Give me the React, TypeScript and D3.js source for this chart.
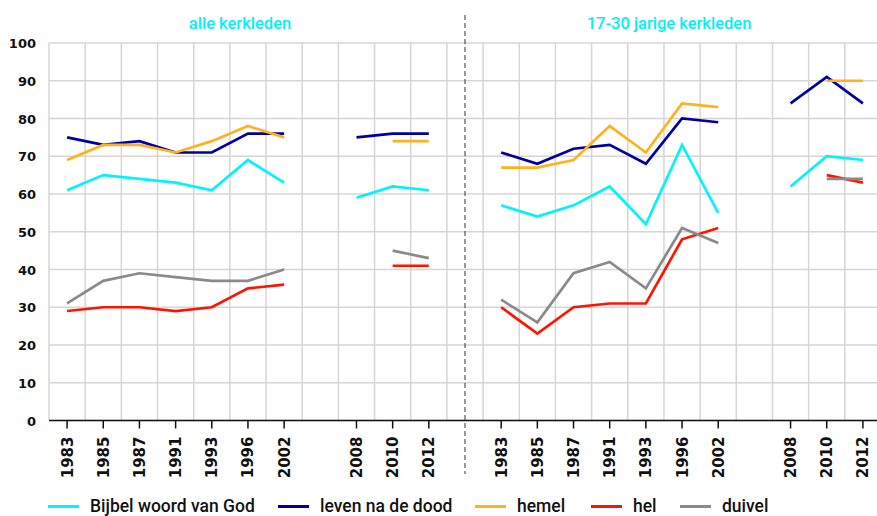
import { scaleBand, scaleLinear, line } from "d3";

const years = ["1983", "1985", "1987", "1991", "1993", "1996", "2002", "2008", "2010", "2012"];
const panels = ["L", "R"];
const yTicks = [0, 10, 20, 30, 40, 50, 60, 70, 80, 90, 100];

// slots along the x axis: years of each panel, with empty slots between the groups
const slots = [
  "L1983", "L1985", "L1987", "L1991", "L1993", "L1996", "L2002", "Lgap",
  "L2008", "L2010", "L2012", "divider",
  "R1983", "R1985", "R1987", "R1991", "R1993", "R1996", "R2002", "Rgap",
  "R2008", "R2010", "R2012",
];

const bijbelAlle = [61, 65, 64, 63, 61, 69, 63, 59, 62, 61];
const levenAlle = [75, 73, 74, 71, 71, 76, 76, 75, 76, 76];
const hemelAlle = [69, 73, 73, 71, 74, 78, 75, null, 74, 74];
const helAlle = [29, 30, 30, 29, 30, 35, 36, null, 41, 41];
const duivelAlle = [31, 37, 39, 38, 37, 37, 40, null, 45, 43];

const bijbelJong = [57, 54, 57, 62, 52, 73, 55, 62, 70, 69];
const levenJong = [71, 68, 72, 73, 68, 80, 79, 84, 91, 84];
const hemelJong = [67, 67, 69, 78, 71, 84, 83, null, 90, 90];
const helJong = [30, 23, 30, 31, 31, 48, 51, null, 65, 63];
const duivelJong = [32, 26, 39, 42, 35, 51, 47, null, 64, 64];

const seriesNames = ["Bijbel woord van God", "leven na de dood", "hemel", "hel", "duivel"];
const seriesColors = ["#00f4ff", "#0000a0", "#ffb21e", "#ff1400", "#8a8a8a"];

const series = [
  { name: seriesNames[0], color: seriesColors[0], L: bijbelAlle, R: bijbelJong },
  { name: seriesNames[1], color: seriesColors[1], L: levenAlle, R: levenJong },
  { name: seriesNames[2], color: seriesColors[2], L: hemelAlle, R: hemelJong },
  { name: seriesNames[3], color: seriesColors[3], L: helAlle, R: helJong },
  { name: seriesNames[4], color: seriesColors[4], L: duivelAlle, R: duivelJong },
];

const titles = [
  { text: "alle kerkleden", x: 240 },
  { text: "17-30 jarige kerkleden", x: 669 },
];

const legendX = [48, 278, 475, 591, 680];

const W = 877;
const H = 516;

export default function App() {
  const x = scaleBand<string>().domain(slots).range([49, 881]).padding(0);
  const y = scaleLinear().domain([0, 100]).range([420.5, 43]);
  const cx = (k: string) => (x(k) as number) + x.bandwidth() / 2;

  // build points per panel with a null break between 2002 and 2008
  const pointsFor = (panel: string, vals: (number | null)[]) => {
    const pts: { k: string; v: number | null }[] = [];
    years.forEach((yr, i) => {
      if (yr === "2008") pts.push({ k: panel + "gap", v: null });
      pts.push({ k: panel + yr, v: vals[i] });
    });
    return pts;
  };

  const lineGen = line<{ k: string; v: number | null }>()
    .defined((d) => d.v != null)
    .x((d) => cx(d.k))
    .y((d) => y(d.v as number));

  const boundaries = slots.map((s) => x(s) as number).concat([881]);
  const font = "'DejaVu Sans', sans-serif";
  const legendFont = "Roboto, sans-serif";

  return (
    <svg width={W} height={H} style={{ position: "absolute", left: 0, top: 0, background: "#fff" }}>
      {/* grid */}
      <g stroke="#d6d6d6" strokeWidth={1.5}>
        {yTicks.map((t) => (
          <line key={"h" + t} x1={49} x2={W} y1={y(t)} y2={y(t)} />
        ))}
        {boundaries.map((b, i) => (
          <line key={"v" + i} x1={b} x2={b} y1={y(100)} y2={y(0)} />
        ))}
      </g>

      {/* y labels */}
      {yTicks.map((t) => (
        <text key={"yl" + t} x={36} y={y(t) + 5} textAnchor="end" fontFamily={font} fontWeight="bold" fontSize={13} fill="#111">
          {t}
        </text>
      ))}

      {/* x axis */}
      <line x1={49} x2={W} y1={y(0)} y2={y(0)} stroke="#111" strokeWidth={1.5} />
      {panels.map((p) =>
        years.map((yr) => (
          <g key={p + yr} transform={`translate(${cx(p + yr)},${y(0)})`}>
            <line y1={0} y2={8} stroke="#111" strokeWidth={1.5} />
            <text transform="rotate(-90)" x={-16} y={5.5} textAnchor="end" fontFamily={font} fontWeight="bold" fontSize={15} fill="#111">
              {yr}
            </text>
          </g>
        ))
      )}

      {/* divider */}
      <line x1={cx("divider")} x2={cx("divider")} y1={15} y2={474} stroke="#333" strokeWidth={1} strokeDasharray="5,3" />

      {/* titles */}
      {titles.map((t) => (
        <text key={t.text} x={t.x} y={29} textAnchor="middle" fontFamily={legendFont} fontWeight={500} fontSize={16.5} fill="#00f0ff">
          {t.text}
        </text>
      ))}

      {/* lines */}
      {series.map((s) =>
        panels.map((p) => (
          <path
            key={s.name + p}
            d={lineGen(pointsFor(p, p === "L" ? s.L : s.R)) || ""}
            fill="none"
            stroke={s.color}
            strokeWidth={2.7}
          />
        ))
      )}

      {/* legend */}
      {series.map((s, i) => (
        <g key={"lg" + s.name} transform={`translate(${legendX[i]},0)`}>
          <line x1={0} x2={31} y1={506.5} y2={506.5} stroke={s.color} strokeWidth={3} />
          <text x={42} y={512} fontFamily={legendFont} fontWeight={500} fontSize={17.5} fill="#111">
            {s.name}
          </text>
        </g>
      ))}
    </svg>
  );
}
